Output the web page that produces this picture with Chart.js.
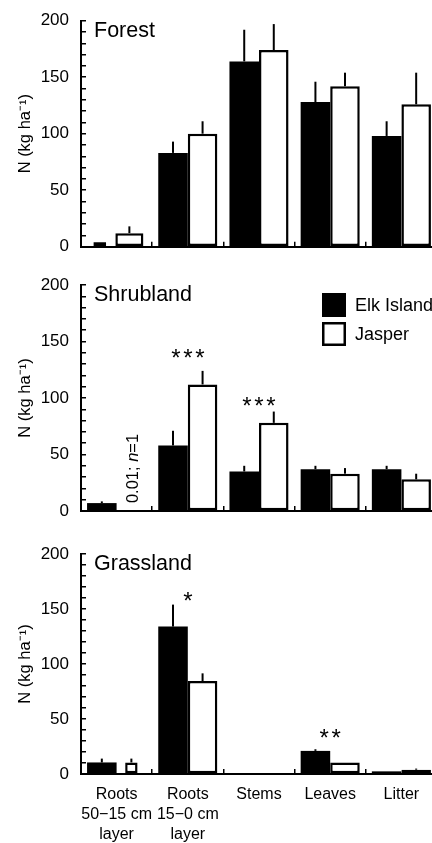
<!DOCTYPE html>
<html>
<head>
<meta charset="utf-8">
<script src="https://cdn.jsdelivr.net/npm/chart.js@4.4.1/dist/chart.umd.min.js"></script>
<style>
  html, body { margin: 0; padding: 0; background: #fff; width: 432px; height: 843px; overflow: hidden; position: relative; }
  .panel { position: absolute; left: 0; }
  .panel canvas { display: block; }
</style>
</head>
<body>
<div class="panel" style="top:0"><canvas id="forest" width="442" height="262"></canvas></div>
<div class="panel" style="top:264px"><canvas id="shrub" width="442" height="262"></canvas></div>
<div class="panel" style="top:532px"><canvas id="grass" width="442" height="311"></canvas></div>
<script>
// categories and series
const categories = [['Roots', '50\u221215 cm', 'layer'], ['Roots', '15\u22120 cm', 'layer'], 'Stems', 'Leaves', 'Litter'];
const seriesNames = ['Elk Island', 'Jasper'];
const yLabels = [0, 50, 100, 150, 200];

// Forest
const forestElk = [4, 83, 164, 128, 98];
const forestElkErr = [0, 10, 28, 18, 13];
const forestJasper = [12, 100, 174, 142, 126];
const forestJasperErr = [6, 11, 23, 12, 28];

// Shrubland
const shrubElk = [7, 58, 35, 37, 37];
const shrubElkErr = [1.5, 13, 5, 3, 3];
const shrubJasper = [0.01, 112, 78, 33, 28];
const shrubJasperErr = [0, 12, 10, 5, 5];
const shrubStars = ['', '***', '***', '', ''];
const shrubStarsAt = [null, 140, 98, null, null];

// Grassland
const grassElk = [10.5, 134, 0, 21, 2.4];
const grassElkErr = [3.5, 20, 0, 1.5, 0];
const grassJasper = [10.5, 84.5, 0, 10.5, 3.9];
const grassJasperErr = [3.5, 7, 0, 0, 1];
const grassStars = ['', '*', '', '**', ''];
const grassStarsAt = [null, 162, null, 38, null];

const FONT = '"Liberation Sans", Arial, sans-serif';
Chart.defaults.font.family = FONT;
Chart.defaults.color = '#000';

// upward error whiskers, no caps
const errorBars = {
  id: 'errorBars',
  afterDatasetsDraw(chart) {
    const ctx = chart.ctx, y = chart.scales.y;
    ctx.save();
    ctx.strokeStyle = '#000';
    ctx.lineWidth = 2;
    chart.data.datasets.forEach((ds, i) => {
      chart.getDatasetMeta(i).data.forEach((bar, j) => {
        const e = ds.errors[j];
        if (!e) return;
        ctx.beginPath();
        ctx.moveTo(bar.x, bar.y);
        ctx.lineTo(bar.x, y.getPixelForValue(ds.data[j] + e));
        ctx.stroke();
      });
    });
    ctx.restore();
  }
};

// a few bars are drawn thinner in the original
const narrowBars = {
  id: 'narrowBars',
  afterDatasetsUpdate(chart, args, opts) {
    (opts.list || []).forEach(([d, j, f, dx]) => {
      const bar = chart.getDatasetMeta(d).data[j];
      if (!bar) return;
      bar.width *= f;
      bar.x += dx;
    });
  }
};

const panelText = {
  id: 'panelText',
  afterDraw(chart, args, o) {
    const ctx = chart.ctx, area = chart.chartArea, x = chart.scales.x, y = chart.scales.y;
    ctx.save();
    ctx.fillStyle = '#000';
    ctx.font = '21.5px ' + FONT;
    ctx.textAlign = 'left';
    ctx.textBaseline = 'alphabetic';
    ctx.fillText(o.title, area.left + 13, area.top + 16);

    // significance stars
    ctx.font = '24px ' + FONT;
    ctx.textAlign = 'center';
    (o.stars || []).forEach((s, i) => {
      if (!s) return;
      const cx = x.getPixelForValue(i), cy = y.getPixelForValue(o.starsAt[i]);
      for (let k = 0; k < s.length; k++) {
        ctx.fillText('*', cx + (k - (s.length - 1) / 2) * 12, cy + 13.5);
      }
    });

    // rotated note on the empty bar
    if (o.note) {
      const bar = chart.getDatasetMeta(o.note.dataset).data[o.note.index];
      ctx.save();
      ctx.translate(bar.x + 2, y.getPixelForValue(o.note.from));
      ctx.rotate(-Math.PI / 2);
      ctx.textAlign = 'left';
      ctx.textBaseline = 'middle';
      let px = 0;
      o.note.parts.forEach(([t, italic]) => {
        ctx.font = (italic ? 'italic ' : '') + '16.5px ' + FONT;
        ctx.fillText(t, px, 0);
        px += ctx.measureText(t).width;
      });
      ctx.restore();
    }

    if (o.legend) {
      const lx = area.left + 241, ly = area.top + 8;
      chart.data.datasets.forEach((ds, i) => {
        const by = ly + i * 29;
        ctx.fillStyle = ds.backgroundColor;
        ctx.fillRect(lx, by, 24, 24);
        ctx.lineWidth = 2.5;
        ctx.strokeStyle = '#000';
        ctx.strokeRect(lx + 1.25, by + 1.25, 21.5, 21.5);
        ctx.fillStyle = '#000';
        ctx.font = '18px ' + FONT;
        ctx.textAlign = 'left';
        ctx.textBaseline = 'middle';
        ctx.fillText(ds.label, lx + 33, by + 13);
      });
    }
    ctx.restore();
  }
};

function makePanel(id, p) {
  return new Chart(document.getElementById(id), {
    type: 'bar',
    data: {
      labels: categories,
      datasets: [
        { label: seriesNames[0], data: p.elk, errors: p.elkErr, backgroundColor: '#000', borderColor: '#000', borderWidth: 0 },
        { label: seriesNames[1], data: p.jasper, errors: p.jasperErr, backgroundColor: '#fff', borderColor: '#000', borderWidth: 2.5, borderSkipped: false }
      ]
    },
    options: {
      responsive: false,
      animation: false,
      events: [],
      categoryPercentage: 0.83,
      barPercentage: 1.0,
      layout: { padding: { top: p.padTop, bottom: p.padBottom, left: 0, right: 5 } },
      plugins: {
        legend: { display: false },
        tooltip: { enabled: false },
        narrowBars: { list: p.narrow || [] },
        panelText: { title: p.title, stars: p.stars, starsAt: p.starsAt, note: p.note, legend: p.legend }
      },
      scales: {
        x: {
          offset: true,
          grid: { display: true, offset: true, drawOnChartArea: false, drawTicks: true, tickLength: -5, color: '#000', lineWidth: 1.5 },
          border: { display: true, color: '#000', width: 2 },
          ticks: { display: p.showX, autoSkip: false, maxRotation: 0, padding: 16, font: { size: 16, lineHeight: 1.25 }, color: '#000' },
          afterFit(s) { s.height = p.xHeight; s.paddingLeft = 0; s.paddingRight = 0; }
        },
        y: {
          min: 0,
          max: 200,
          grid: { display: true, drawOnChartArea: false, drawTicks: true, tickLength: -5, color: '#000', lineWidth: 1.5 },
          border: { display: true, color: '#000', width: 2 },
          ticks: {
            stepSize: 10, autoSkip: false, maxTicksLimit: 30, padding: 17,
            font: { size: 17 }, color: '#000',
            callback: v => yLabels.includes(v) ? v : ''
          },
          title: { display: true, text: 'N (kg ha\u207B\u00B9)', font: { size: 16.5 }, padding: { top: 15.5, bottom: 0 }, color: '#000' },
          afterFit(s) { s.width = 81; s.paddingTop = 0; s.paddingBottom = 0; }
        }
      }
    },
    plugins: [narrowBars, errorBars, panelText]
  });
}

makePanel('forest', {
  title: 'Forest', elk: forestElk, elkErr: forestElkErr, jasper: forestJasper, jasperErr: forestJasperErr,
  padTop: 20.7, padBottom: 11.3, xHeight: 4, showX: false,
  narrow: [[0, 0, 0.42, -2], [1, 0, 0.95, -2]]
});

makePanel('shrub', {
  title: 'Shrubland', elk: shrubElk, elkErr: shrubElkErr, jasper: shrubJasper, jasperErr: shrubJasperErr,
  padTop: 21, padBottom: 11, xHeight: 4, showX: false,
  stars: shrubStars, starsAt: shrubStarsAt, legend: true,
  note: { dataset: 1, index: 0, from: 7, parts: [['0.01; ', false], ['n', true], ['=1', false]] }
});

makePanel('grass', {
  title: 'Grassland', elk: grassElk, elkErr: grassElkErr, jasper: grassJasper, jasperErr: grassJasperErr,
  padTop: 22, padBottom: 0, xHeight: 69, showX: true,
  stars: grassStars, starsAt: grassStarsAt,
  narrow: [[1, 0, 0.42, 0]]
});
</script>
</body>
</html>
